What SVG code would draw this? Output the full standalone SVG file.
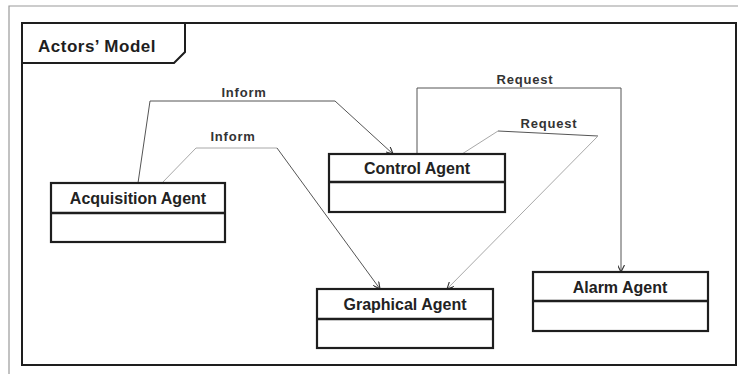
<svg xmlns="http://www.w3.org/2000/svg" width="738" height="374" viewBox="0 0 738 374">
<defs>
<style>
.frame{fill:none;stroke:#1e1e1e;stroke-width:2}
.outer{fill:none;stroke:#9a9a9a;stroke-width:1.2}
.box{fill:#fff;stroke:#1e1e1e;stroke-width:2.2}
.div{stroke:#1e1e1e;stroke-width:2.5}
.name{font-family:"Liberation Sans",Arial,sans-serif;font-weight:bold;font-size:16px;fill:#222;text-anchor:middle}
.title{font-family:"Liberation Sans",Arial,sans-serif;font-weight:bold;font-size:17px;letter-spacing:0.5px;fill:#1e1e1e}
.lbl{font-family:"Liberation Sans",Arial,sans-serif;font-weight:bold;font-size:13px;letter-spacing:0.8px;fill:#333;text-anchor:middle}
.con{fill:none;stroke:#555;stroke-width:1}
.light{fill:none;stroke:#a8a8a8;stroke-width:1}
</style>
<marker id="arr" viewBox="0 0 10 10" refX="10" refY="5" markerWidth="7" markerHeight="7" orient="auto" markerUnits="userSpaceOnUse">
<path d="M0,0 L10,5 L0,10" fill="none" stroke="#333" stroke-width="1.6"/>
</marker>
</defs>
<rect width="738" height="374" fill="#fff"/>
<path class="outer" d="M9,374 V6 H738"/>
<rect class="frame" x="22" y="23" width="714" height="342"/>
<g id="title">
<path class="frame" d="M22,23 H185 V52 L174,63 H22"/>
<text class="title" x="38" y="52">Actors’ Model</text>
</g>
<g id="connectors">
<path class="con" d="M138,183 L150,101 H335 L393,154" marker-end="url(#arr)"/>
<path class="light" d="M162,183 L196,148 H277"/>
<path class="con" d="M277,148 L380,289" marker-end="url(#arr)"/>
<path class="con" d="M417,154 V88 H621 V272" marker-end="url(#arr)"/>
<path class="light" d="M462,154 L498,131"/>
<path class="con" d="M498,131 L598,136"/>
<path class="light" d="M598,136 L447,289" marker-end="url(#arr)"/>
<text class="lbl" x="244" y="97">Inform</text>
<text class="lbl" x="233" y="141">Inform</text>
<text class="lbl" x="525" y="84">Request</text>
<text class="lbl" x="549" y="128">Request</text>
</g>
<g id="acquisition">
<rect class="box" x="51" y="183" width="174" height="59"/>
<line class="div" x1="51" y1="213" x2="225" y2="213"/>
<text class="name" x="138" y="204">Acquisition Agent</text>
</g>
<g id="control">
<rect class="box" x="329" y="154" width="176" height="58"/>
<line class="div" x1="329" y1="182" x2="505" y2="182"/>
<text class="name" x="417" y="174">Control Agent</text>
</g>
<g id="graphical">
<rect class="box" x="317" y="289" width="176" height="59"/>
<line class="div" x1="317" y1="319" x2="493" y2="319"/>
<text class="name" x="405" y="310">Graphical Agent</text>
</g>
<g id="alarm">
<rect class="box" x="533" y="272" width="175" height="59"/>
<line class="div" x1="533" y1="301" x2="708" y2="301"/>
<text class="name" x="620" y="293">Alarm Agent</text>
</g>
</svg>
